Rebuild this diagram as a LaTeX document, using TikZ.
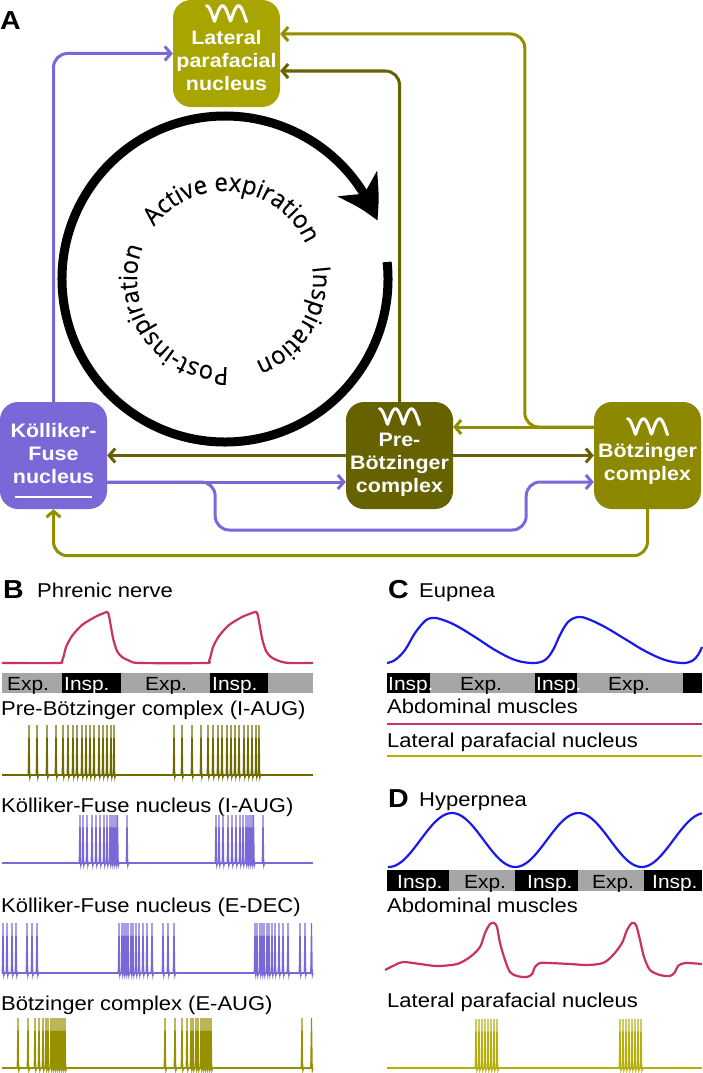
\documentclass[tikz,border=0pt]{standalone}
\usepackage{fontspec}
\setmainfont{Liberation Sans}[FakeStretch=1.1]
\newfontfamily\cyclefont{Open Sans}[FakeStretch=0.95,FakeBold=0.4]
\usetikzlibrary{arrows.meta,bending,calc,decorations.text}

\definecolor{kfcol}{RGB}{122,104,216}
\definecolor{pbccol}{RGB}{102,98,0}
\definecolor{botcol}{RGB}{140,136,0}
\definecolor{botline}{RGB}{146,142,0}
\definecolor{lpfcol}{RGB}{168,165,0}
\definecolor{phrcol}{RGB}{200,50,100}
\definecolor{flowcol}{RGB}{25,25,235}
\definecolor{bargray}{RGB}{166,166,168}
\definecolor{pbcspk}{RGB}{110,106,0}
\definecolor{botspk}{RGB}{150,145,0}
\definecolor{lpfspk}{RGB}{180,175,10}

\tikzset{osc/.pic={\draw[white, line width=3pt, line join=round, line cap=round]
    plot[domain=90:540, samples=60] ({-20+(\x-90)/450*40}, {16-16*abs(sin(\x))});}}

\begin{document}
\begin{tikzpicture}[x=1pt, y=-1pt,
    nucbox/.style={rounded corners=18pt, minimum width=107pt, minimum height=107pt, inner sep=0pt},
    boxtext/.style={text=white, align=center, inner sep=0pt, font=\fontsize{19.5}{23}\selectfont\bfseries},
    conn/.style={line width=3pt, rounded corners=14pt, -{Straight Barb[length=6pt,width=14pt]}},
    lbl/.style={anchor=base west, inner sep=0pt, font=\fontsize{20}{24}\selectfont},
    panel/.style={anchor=base west, inner sep=0pt, font=\fontsize{26}{30}\selectfont\bfseries},
    bartext/.style={anchor=base west, inner sep=0pt, font=\fontsize{19}{22}\selectfont},
    trace/.style={line width=2.2pt, line join=round},
    spike/.style={line width=1.1pt},
    cycletext/.style={decorate, decoration={text along path, text align=center,
        text={|\cyclefont\fontsize{25}{30}\selectfont|#1}}}]
    \useasboundingbox (0,0) rectangle (702,1073);

    % A: network
    \node[panel] (labA) at (0,30) {A};

    \node[nucbox, fill=lpfcol] (lpf) at (226.5,53.5) {};
    \node[nucbox, fill=kfcol] (kf) at (53.5,455.5) {};
    \node[nucbox, fill=pbccol] (pbc) at (399.5,455.5) {};
    \node[nucbox, fill=botcol] (botc) at (647.5,455.5) {};

    \node[boxtext] (lpf text) at (226.5,61) {Lateral\\parafacial\\nucleus};
    \node[boxtext] (kf text) at (53.5,454) {Kölliker-\\Fuse\\nucleus};
    \node[boxtext] (pbc text) at (399.5,465) {Pre-\\Bötzinger\\complex};
    \node[boxtext] (botc text) at (647.5,464) {Bötzinger\\complex};
    \draw[white, line width=1.5pt] (15,497) -- (92,497);

    \pic at ($(lpf.north)+(0,6)$) {osc};
    \pic at ($(pbc.north)+(0,7)$) {osc};
    \pic at ($(botc.north)+(0,17)$) {osc};

    \draw[conn, kfcol] (kf.north) |- (lpf.west);
    \draw[conn, pbccol] (pbc.north) |- ($(lpf.east)+(0,17.5)$);
    \draw[conn, botline] ($(botc.west)+(0,-28.5)$) -- ++(-69,0) |- ($(lpf.east)+(0,-19.5)$);
    \draw[conn, botline] ($(botc.west)+(0,-28.5)$) -- ($(pbc.east)+(0,-28.5)$);
    \draw[conn, pbccol] (pbc.west) -- (kf.east);
    \draw[conn, pbccol] (pbc.east) -- (botc.west);
    \draw[conn, kfcol] ($(kf.east)+(0,26.5)$) -- ($(pbc.west)+(0,26.5)$);
    \draw[conn, kfcol] ($(kf.east)+(0,26.5)$) -- ++(108,0) -- ++(0,48) -- ++(311,0)
        -- ++(0,-48) -- ($(botc.west)+(0,26.5)$);
    \draw[conn, botline] (botc.south) -- ++(0,46.5) -| (kf.south);

    % respiratory cycle
    \coordinate (cyc) at (225,279);
    \draw[line width=9pt, -{Stealth[length=42pt,width=46pt,inset=12pt,bend]}]
        ($(cyc)+(-6:163)$) arc[start angle=-6, end angle=339, radius=163];
    \path[cycletext={Active expiration}] ($(cyc)+(-164:88)$) arc[start angle=-164, end angle=-3, radius=88];
    \path[cycletext={Inspiration}] ($(cyc)+(-38:88)$) arc[start angle=-38, end angle=100, radius=88];
    \path[cycletext={Post-inspiration}] ($(cyc)+(60:88)$) arc[start angle=60, end angle=229, radius=88];

    % B: neuronal activity
    \node[panel] (labB) at (3,598) {B};
    \node[lbl] (phren) at (37,597) {Phrenic nerve};
    \draw[trace, phrcol] plot[smooth, tension=0.45] coordinates {(2,663) (58,663) (62,661)
        (64,655) (66,647) (72,636) (82,625) (95,617) (104,613) (107,612) (109,616) (113,638)
        (117,651) (122,657) (130,661) (140,663) (205,663) (209,661) (211,655) (213,647)
        (219,636) (229,625) (242,617) (252,613) (256,612) (258,616) (262,638) (266,651)
        (271,657) (279,661) (289,663) (313,663)};
    \fill[bargray] (2,673) rectangle (313,693);
    \fill[black] (62,673) rectangle (121,693);
    \fill[black] (210,673) rectangle (268,693);
    \node[bartext] (bexp1) at (7,690) {Exp.};
    \node[bartext, white] (binsp1) at (64,690) {Insp.};
    \node[bartext] (bexp2) at (145,690) {Exp.};
    \node[bartext, white] (binsp2) at (212,690) {Insp.};

    \node[lbl] (pbcaug) at (1,715) {Pre-Bötzinger complex (I-AUG)};
    \draw[spike, pbcspk] (2,775) -- (313,775);
    \foreach \s in {29,37,47,56,63,68,73,77,82,86,90,94,99,103,107,111,114} {
        \draw[spike, pbcspk] (\s-0.8,775) -- (\s,725) -- (\s+0.8,778) -- (\s+1.6,775);
        \draw[spike, pbcspk] (\s+144.2,775) -- (\s+145,725) -- (\s+145.8,778) -- (\s+146.6,775);
    }

    \node[lbl] (kfaug) at (1,812) {Kölliker-Fuse nucleus (I-AUG)};
    \draw[spike, kfcol] (2,863) -- (313,863);
    \foreach \s in {80,83,87,92,96,100,104,107,110,112,114,116,117.5,127,
        216,219,223,228,232,236,240,243,246,248,250,252,253.5,263}
        \draw[spike, kfcol] (\s-0.8,863) -- (\s,815) -- (\s+0.8,866) -- (\s+1.6,863);

    \node[lbl] (kfdec) at (1,912) {Kölliker-Fuse nucleus (E-DEC)};
    \draw[spike, kfcol] (2,973) -- (313,973);
    \foreach \s in {3,7,12,16,27,32,37,119,122,124,126,128,131,133,136,139,143,147,152,163,
        168,174,255,257,260,262,264,267,269,272,275,279,283,288,300,305,311.5}
        \draw[spike, kfcol] (\s-0.8,973) -- (\s,923) -- (\s+0.8,976) -- (\s+1.6,973);

    \node[lbl] (botaug) at (1,1010) {Bötzinger complex (E-AUG)};
    \draw[spike, botspk] (2,1068) -- (313,1068);
    \foreach \s in {18,28,35,39,43,46,48,51,53,55,57,59,61,63,65,165,175,182,187,191,193,196,
        198,201,203,205,207,209,211,302,311.5}
        \draw[spike, botspk] (\s-0.8,1068) -- (\s,1018) -- (\s+0.8,1071) -- (\s+1.6,1068);

    % C: eupnea
    \node[panel] (labC) at (388,598) {C};
    \node[lbl] (eup) at (419,597) {Eupnea};
    \draw[trace, flowcol] plot[smooth, tension=0.6] coordinates {(387,663) (395,660) (405,650)
        (415,633) (425,621) (432,618) (440,619) (455,625) (475,637) (495,650) (515,660) (533,663)
        (545,660) (553,650) (560,635) (568,622) (578,617) (588,619) (605,627) (625,639) (645,651)
        (665,660) (682,663) (692,661) (698,655) (702,647)};
    \fill[bargray] (387,673) rectangle (702,693);
    \fill[black] (387,673) rectangle (430,693);
    \fill[black] (535,673) rectangle (577,693);
    \fill[black] (683,673) rectangle (702,693);
    \node[bartext, white] (cinsp1) at (388,690) {Insp.};
    \node[bartext] (cexp1) at (460,690) {Exp.};
    \node[bartext, white] (cinsp2) at (536,690) {Insp.};
    \node[bartext] (cexp2) at (608,690) {Exp.};
    \node[lbl] (cabd) at (387,713) {Abdominal muscles};
    \draw[line width=2pt, phrcol] (387,724) -- (702,724);
    \node[lbl] (clpf) at (387,747) {Lateral parafacial nucleus};
    \draw[line width=1.6pt, lpfspk] (387,756) -- (702,756);

    % D: hyperpnea
    \node[panel] (labD) at (388,807) {D};
    \node[lbl] (hyp) at (419,806) {Hyperpnea};
    \draw[trace, flowcol] plot[domain=388:702, samples=120] (\x, {840-27*cos((\x-452)/126.5*360)});
    \fill[bargray] (387,870) rectangle (702,891);
    \fill[black] (387,870) rectangle (449,891);
    \fill[black] (515,870) rectangle (578,891);
    \fill[black] (644,870) rectangle (702,891);
    \node[bartext, white] (dinsp1) at (397,888) {Insp.};
    \node[bartext] (dexp1) at (464,888) {Exp.};
    \node[bartext, white] (dinsp2) at (527,888) {Insp.};
    \node[bartext] (dexp2) at (592,888) {Exp.};
    \node[bartext, white] (dinsp3) at (652,888) {Insp.};
    \node[lbl] (dabd) at (387,912) {Abdominal muscles};
    \draw[trace, phrcol] plot[smooth, tension=0.5] coordinates {(385,970) (395,965) (403,962)
        (420,964) (437,966) (457,964) (470,957) (480,947) (485,933) (490,924) (494,923) (497,927)
        (500,943) (505,960) (510,972) (517,976) (527,977) (532,974) (535,967) (540,963) (550,963)
        (570,964) (587,965) (603,963) (613,955) (622,943) (627,930) (632,923) (636,925) (640,940)
        (644,957) (650,970) (660,975) (670,976) (675,972) (678,966) (685,963) (702,964)};
    \node[lbl] (dlpf) at (387,1007) {Lateral parafacial nucleus};
    \draw[spike, lpfspk] (387,1068) -- (702,1068);
    \foreach \s in {476,479,...,497,620,623,...,641}
        \draw[spike, lpfspk] (\s-0.8,1068) -- (\s,1019) -- (\s+0.8,1071) -- (\s+1.6,1068);
\end{tikzpicture}
\end{document}
